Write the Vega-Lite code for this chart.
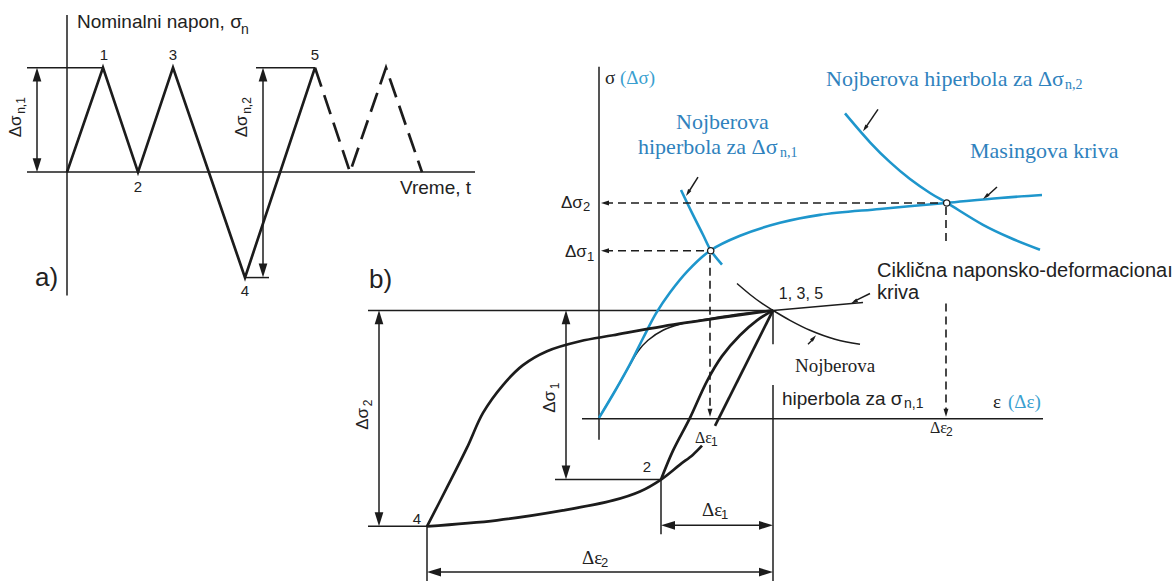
{
  "$schema": "https://vega.github.io/schema/vega-lite/v6.json",
  "width": 1174,
  "height": 584,
  "autosize": {"type": "fit", "contains": "padding"},
  "padding": 0,
  "background": "white",
  "config": {"view": {"stroke": null}},
  "datasets": {
    "thin": [
      {"id": "a_vaxis", "o": 1, "x": 67, "y": 15}, {"id": "a_vaxis", "o": 2, "x": 67, "y": 297},
      {"id": "a_haxis", "o": 1, "x": 27, "y": 173}, {"id": "a_haxis", "o": 2, "x": 475, "y": 173},
      {"id": "a_top1", "o": 1, "x": 27, "y": 68}, {"id": "a_top1", "o": 2, "x": 103, "y": 68},
      {"id": "a_top2", "o": 1, "x": 256, "y": 68}, {"id": "a_top2", "o": 2, "x": 315, "y": 68},
      {"id": "a_bot", "o": 1, "x": 245, "y": 279}, {"id": "a_bot", "o": 2, "x": 269, "y": 279},
      {"id": "a_arr1", "o": 1, "x": 37, "y": 72}, {"id": "a_arr1", "o": 2, "x": 37, "y": 169},
      {"id": "a_arr2", "o": 1, "x": 263, "y": 72}, {"id": "a_arr2", "o": 2, "x": 263, "y": 275},
      {"id": "b_top", "o": 1, "x": 368, "y": 312}, {"id": "b_top", "o": 2, "x": 773, "y": 312},
      {"id": "b_bot", "o": 1, "x": 368, "y": 529}, {"id": "b_bot", "o": 2, "x": 427, "y": 529},
      {"id": "b_ref2", "o": 1, "x": 555, "y": 482}, {"id": "b_ref2", "o": 2, "x": 661, "y": 482},
      {"id": "b_v773a", "o": 1, "x": 773, "y": 312}, {"id": "b_v773a", "o": 2, "x": 773, "y": 346},
      {"id": "b_v773b", "o": 1, "x": 773, "y": 387}, {"id": "b_v773b", "o": 2, "x": 773, "y": 584},
      {"id": "b_v661", "o": 1, "x": 661, "y": 482}, {"id": "b_v661", "o": 2, "x": 661, "y": 537},
      {"id": "b_v427", "o": 1, "x": 427, "y": 529}, {"id": "b_v427", "o": 2, "x": 427, "y": 584},
      {"id": "b_arrS2", "o": 1, "x": 379, "y": 316}, {"id": "b_arrS2", "o": 2, "x": 379, "y": 525},
      {"id": "b_arrS1", "o": 1, "x": 566, "y": 316}, {"id": "b_arrS1", "o": 2, "x": 566, "y": 478},
      {"id": "b_arrE1", "o": 1, "x": 665, "y": 528}, {"id": "b_arrE1", "o": 2, "x": 769, "y": 528},
      {"id": "b_arrE2", "o": 1, "x": 431, "y": 575}, {"id": "b_arrE2", "o": 2, "x": 769, "y": 575},
      {"id": "b_saxis", "o": 1, "x": 599, "y": 67}, {"id": "b_saxis", "o": 2, "x": 599, "y": 442},
      {"id": "b_eaxis", "o": 1, "x": 582, "y": 421}, {"id": "b_eaxis", "o": 2, "x": 1043, "y": 421},
      {"id": "b_cycext", "o": 1, "x": 773, "y": 312}, {"id": "b_cycext", "o": 2, "x": 863, "y": 304},
      {"id": "p1", "o": 1, "x": 698, "y": 178}, {"id": "p1", "o": 2, "x": 688, "y": 194},
      {"id": "p2", "o": 1, "x": 878, "y": 110}, {"id": "p2", "o": 2, "x": 865, "y": 129},
      {"id": "p3", "o": 1, "x": 997, "y": 188}, {"id": "p3", "o": 2, "x": 986, "y": 198},
      {"id": "p4", "o": 1, "x": 870, "y": 295}, {"id": "p4", "o": 2, "x": 854, "y": 303},
      {"id": "p5", "o": 1, "x": 808, "y": 346}, {"id": "p5", "o": 2, "x": 814, "y": 340}
    ],
    "thinCurve": [
      {"id": "cyc", "o": 1, "x": 599, "y": 420}, {"id": "cyc", "o": 2, "x": 615, "y": 393},
      {"id": "cyc", "o": 3, "x": 628, "y": 370}, {"id": "cyc", "o": 4, "x": 638, "y": 353},
      {"id": "cyc", "o": 5, "x": 648, "y": 342}, {"id": "cyc", "o": 6, "x": 663, "y": 332},
      {"id": "cyc", "o": 7, "x": 680, "y": 326}, {"id": "cyc", "o": 8, "x": 700, "y": 322},
      {"id": "cyc", "o": 9, "x": 735, "y": 316}, {"id": "cyc", "o": 10, "x": 773, "y": 312},
      {"id": "hypB", "o": 1, "x": 737, "y": 285}, {"id": "hypB", "o": 2, "x": 750, "y": 296},
      {"id": "hypB", "o": 3, "x": 762, "y": 305}, {"id": "hypB", "o": 4, "x": 773, "y": 312},
      {"id": "hypB", "o": 5, "x": 790, "y": 322}, {"id": "hypB", "o": 6, "x": 810, "y": 332},
      {"id": "hypB", "o": 7, "x": 835, "y": 341}, {"id": "hypB", "o": 8, "x": 860, "y": 346}
    ],
    "thick": [
      {"id": "wave", "o": 1, "x": 67, "y": 173}, {"id": "wave", "o": 2, "x": 103, "y": 68},
      {"id": "wave", "o": 3, "x": 138, "y": 173}, {"id": "wave", "o": 4, "x": 173, "y": 68},
      {"id": "wave", "o": 5, "x": 245, "y": 279}, {"id": "wave", "o": 6, "x": 315, "y": 68},
      {"id": "unload", "o": 1, "x": 715, "y": 428}, {"id": "unload", "o": 2, "x": 773, "y": 312}
    ],
    "thickDash": [
      {"id": "wave2", "o": 1, "x": 315, "y": 68}, {"id": "wave2", "o": 2, "x": 350, "y": 173},
      {"id": "wave2", "o": 3, "x": 386, "y": 68}, {"id": "wave2", "o": 4, "x": 422, "y": 173}
    ],
    "thickCurve": [
      {"id": "up4", "o": 1, "x": 427, "y": 529}, {"id": "up4", "o": 2, "x": 447, "y": 490},
      {"id": "up4", "o": 3, "x": 467, "y": 450}, {"id": "up4", "o": 4, "x": 483, "y": 415},
      {"id": "up4", "o": 5, "x": 503, "y": 387}, {"id": "up4", "o": 6, "x": 523, "y": 367},
      {"id": "up4", "o": 7, "x": 547, "y": 353}, {"id": "up4", "o": 8, "x": 580, "y": 343},
      {"id": "up4", "o": 9, "x": 613, "y": 337}, {"id": "up4", "o": 10, "x": 663, "y": 328},
      {"id": "up4", "o": 11, "x": 730, "y": 318}, {"id": "up4", "o": 12, "x": 773, "y": 312},
      {"id": "low4", "o": 1, "x": 427, "y": 529}, {"id": "low4", "o": 2, "x": 497, "y": 523},
      {"id": "low4", "o": 3, "x": 563, "y": 513}, {"id": "low4", "o": 4, "x": 613, "y": 503},
      {"id": "low4", "o": 5, "x": 640, "y": 494}, {"id": "low4", "o": 6, "x": 661, "y": 482},
      {"id": "low4", "o": 7, "x": 680, "y": 467}, {"id": "low4", "o": 8, "x": 693, "y": 457},
      {"id": "low4", "o": 9, "x": 702, "y": 448},
      {"id": "up2", "o": 1, "x": 661, "y": 482}, {"id": "up2", "o": 2, "x": 673, "y": 453},
      {"id": "up2", "o": 3, "x": 690, "y": 420}, {"id": "up2", "o": 4, "x": 707, "y": 383},
      {"id": "up2", "o": 5, "x": 722, "y": 358}, {"id": "up2", "o": 6, "x": 740, "y": 337},
      {"id": "up2", "o": 7, "x": 757, "y": 322}, {"id": "up2", "o": 8, "x": 773, "y": 312}
    ],
    "blue": [
      {"id": "masing", "o": 1, "x": 599, "y": 420}, {"id": "masing", "o": 2, "x": 615, "y": 393},
      {"id": "masing", "o": 3, "x": 630, "y": 366}, {"id": "masing", "o": 4, "x": 643, "y": 340},
      {"id": "masing", "o": 5, "x": 656, "y": 315}, {"id": "masing", "o": 6, "x": 670, "y": 294},
      {"id": "masing", "o": 7, "x": 688, "y": 272}, {"id": "masing", "o": 8, "x": 710, "y": 252},
      {"id": "masing", "o": 9, "x": 740, "y": 237}, {"id": "masing", "o": 10, "x": 780, "y": 224},
      {"id": "masing", "o": 11, "x": 820, "y": 216}, {"id": "masing", "o": 12, "x": 880, "y": 210},
      {"id": "masing", "o": 13, "x": 946, "y": 204}, {"id": "masing", "o": 14, "x": 1000, "y": 199},
      {"id": "masing", "o": 15, "x": 1042, "y": 196},
      {"id": "hyp1", "o": 1, "x": 681, "y": 191}, {"id": "hyp1", "o": 2, "x": 692, "y": 214},
      {"id": "hyp1", "o": 3, "x": 703, "y": 236}, {"id": "hyp1", "o": 4, "x": 711, "y": 252},
      {"id": "hyp1", "o": 5, "x": 722, "y": 266},
      {"id": "hyp2", "o": 1, "x": 845, "y": 114}, {"id": "hyp2", "o": 2, "x": 870, "y": 143},
      {"id": "hyp2", "o": 3, "x": 890, "y": 163}, {"id": "hyp2", "o": 4, "x": 910, "y": 180},
      {"id": "hyp2", "o": 5, "x": 930, "y": 194}, {"id": "hyp2", "o": 6, "x": 947, "y": 204},
      {"id": "hyp2", "o": 7, "x": 983, "y": 226}, {"id": "hyp2", "o": 8, "x": 1010, "y": 239},
      {"id": "hyp2", "o": 9, "x": 1040, "y": 251}
    ],
    "thinDash": [
      {"id": "d1", "o": 1, "x": 605, "y": 204}, {"id": "d1", "o": 2, "x": 946, "y": 204},
      {"id": "d2", "o": 1, "x": 946, "y": 208}, {"id": "d2", "o": 2, "x": 946, "y": 247},
      {"id": "d3", "o": 1, "x": 946, "y": 305}, {"id": "d3", "o": 2, "x": 946, "y": 412},
      {"id": "d4", "o": 1, "x": 605, "y": 252}, {"id": "d4", "o": 2, "x": 710, "y": 252},
      {"id": "d5", "o": 1, "x": 710, "y": 256}, {"id": "d5", "o": 2, "x": 710, "y": 412}
    ],
    "circles": [
      {"x": 710.7, "y": 252}, {"x": 946.7, "y": 204}
    ],
    "bigHeads": [
      {"x": 37, "y": 75, "a": 0}, {"x": 37, "y": 166, "a": 180},
      {"x": 263, "y": 75, "a": 0}, {"x": 263, "y": 272, "a": 180},
      {"x": 379, "y": 319, "a": 0}, {"x": 379, "y": 522, "a": 180},
      {"x": 566, "y": 319, "a": 0}, {"x": 566, "y": 475, "a": 180},
      {"x": 668, "y": 528, "a": 270}, {"x": 766, "y": 528, "a": 90},
      {"x": 434, "y": 575, "a": 270}, {"x": 766, "y": 575, "a": 90}
    ],
    "dashHeads": [
      {"x": 605, "y": 204, "a": 270}, {"x": 605, "y": 252, "a": 270},
      {"x": 710, "y": 415, "a": 180}, {"x": 946, "y": 415, "a": 180}
    ],
    "pointerHeads": [
      {"x": 687.9, "y": 194, "a": 212.3}, {"x": 865, "y": 129.1, "a": 214.3},
      {"x": 985.7, "y": 197.7, "a": 229.4}, {"x": 854.1, "y": 303.4, "a": 242.2},
      {"x": 813.7, "y": 339.6, "a": 41.6}
    ],
    "sans19": [
      {"x": 77, "y": 22, "t": "Nominalni napon, σ"},
      {"x": 400, "y": 189, "t": "Vreme, t"},
      {"x": 782, "y": 401, "t": "hiperbola za σ"}
    ],
    "sans20": [
      {"x": 877, "y": 272, "t": "Ciklična naponsko-deformacionaı"},
      {"x": 877, "y": 295, "t": "kriva"}
    ],
    "sans15": [
      {"x": 104, "y": 55, "t": "1"}, {"x": 173, "y": 55, "t": "3"}, {"x": 315, "y": 55, "t": "5"},
      {"x": 138, "y": 188, "t": "2"}, {"x": 245, "y": 293, "t": "4"},
      {"x": 647, "y": 469, "t": "2"}, {"x": 417, "y": 522, "t": "4"}
    ],
    "sans16": [
      {"x": 801, "y": 296, "t": "1, 3, 5"}
    ],
    "sans26": [
      {"x": 35, "y": 279, "t": "a)"}, {"x": 369, "y": 281, "t": "b)"}
    ],
    "sansSub": [
      {"x": 241, "y": 30, "t": "n"}, {"x": 904, "y": 406, "t": "n,1"}
    ],
    "rotSans": [
      {"x": 16, "y": 127, "t": "Δσ"}, {"x": 242, "y": 127, "t": "Δσ"},
      {"x": 363, "y": 421, "t": "Δσ"}, {"x": 550, "y": 404, "t": "Δσ"}
    ],
    "rotSansSub": [
      {"x": 21, "y": 106, "t": "n,1"}, {"x": 247, "y": 106, "t": "n,2"},
      {"x": 368, "y": 405, "t": "2"}, {"x": 555, "y": 388, "t": "1"}
    ],
    "sansDelta": [
      {"x": 561, "y": 204, "t": "Δσ"}, {"x": 565, "y": 253, "t": "Δσ"}
    ],
    "digitSub": [
      {"x": 583, "y": 208, "t": "2"}, {"x": 587, "y": 258, "t": "1"},
      {"x": 721, "y": 518, "t": "1"}, {"x": 601, "y": 566, "t": "2"}
    ],
    "smallSub": [
      {"x": 711, "y": 444, "t": "1"}, {"x": 946, "y": 434, "t": "2"}
    ],
    "serifBlack": [
      {"x": 702, "y": 513, "t": "Δε"}, {"x": 582, "y": 561, "t": "Δε"},
      {"x": 795, "y": 368, "t": "Nojberova"},
      {"x": 605, "y": 78, "t": "σ"}, {"x": 993, "y": 404, "t": "ε"}
    ],
    "serifSmall": [
      {"x": 695, "y": 440, "t": "Δε"}, {"x": 930, "y": 430, "t": "Δε"}
    ],
    "blueText": [
      {"x": 826, "y": 79, "t": "Nojberova hiperbola za Δσ"},
      {"x": 970, "y": 152, "t": "Masingova kriva"},
      {"x": 676, "y": 123, "t": "Nojberova"},
      {"x": 638, "y": 148, "t": "hiperbola za Δσ"}
    ],
    "blueSub": [
      {"x": 1065, "y": 85, "t": "n,2"}, {"x": 780, "y": 154, "t": "n,1"}
    ],
    "blueParen": [
      {"x": 620, "y": 78, "t": "(Δσ)"}, {"x": 1008, "y": 404, "t": "(Δε)"}
    ]
  },
  "encoding": {
    "x": {"field": "x", "type": "quantitative", "scale": {"domain": [0, 1174], "nice": false, "zero": false}, "axis": null},
    "y": {"field": "y", "type": "quantitative", "scale": {"domain": [0, 584], "nice": false, "zero": false, "reverse": true}, "axis": null}
  },
  "layer": [
    {
      "data": {"name": "thin"},
      "mark": {"type": "line", "color": "#1c1c1c", "strokeWidth": 1.5},
      "encoding": {"detail": {"field": "id"}, "order": {"field": "o", "type": "quantitative"}}
    },
    {
      "data": {"name": "thinCurve"},
      "mark": {"type": "line", "color": "#1c1c1c", "strokeWidth": 1.5, "interpolate": "catmull-rom"},
      "encoding": {"detail": {"field": "id"}, "order": {"field": "o", "type": "quantitative"}}
    },
    {
      "data": {"name": "blue"},
      "mark": {"type": "line", "color": "#1e96cc", "strokeWidth": 2.6, "interpolate": "catmull-rom"},
      "encoding": {"detail": {"field": "id"}, "order": {"field": "o", "type": "quantitative"}}
    },
    {
      "data": {"name": "thick"},
      "mark": {"type": "line", "color": "#1c1c1c", "strokeWidth": 2.7, "strokeJoin": "miter"},
      "encoding": {"detail": {"field": "id"}, "order": {"field": "o", "type": "quantitative"}}
    },
    {
      "data": {"name": "thickDash"},
      "mark": {"type": "line", "color": "#1c1c1c", "strokeWidth": 2.7, "strokeDash": [20, 9]},
      "encoding": {"detail": {"field": "id"}, "order": {"field": "o", "type": "quantitative"}}
    },
    {
      "data": {"name": "thickCurve"},
      "mark": {"type": "line", "color": "#1c1c1c", "strokeWidth": 2.7, "interpolate": "catmull-rom"},
      "encoding": {"detail": {"field": "id"}, "order": {"field": "o", "type": "quantitative"}}
    },
    {
      "data": {"name": "thinDash"},
      "mark": {"type": "line", "color": "#1c1c1c", "strokeWidth": 1.6, "strokeDash": [8, 5]},
      "encoding": {"detail": {"field": "id"}, "order": {"field": "o", "type": "quantitative"}}
    },
    {
      "data": {"name": "circles"},
      "mark": {"type": "point", "shape": "circle", "size": 40, "filled": true, "fill": "white", "stroke": "#1c1c1c", "strokeWidth": 1.3, "opacity": 1}
    },
    {
      "data": {"name": "bigHeads"},
      "mark": {"type": "point", "shape": "M0,-1L0.62,1L-0.62,1Z", "size": 196, "filled": true, "color": "#1c1c1c", "opacity": 1, "strokeWidth": 0},
      "encoding": {"angle": {"field": "a", "type": "quantitative", "scale": null}}
    },
    {
      "data": {"name": "dashHeads"},
      "mark": {"type": "point", "shape": "M0,-1L0.62,1L-0.62,1Z", "size": 64, "filled": true, "color": "#1c1c1c", "opacity": 1, "strokeWidth": 0},
      "encoding": {"angle": {"field": "a", "type": "quantitative", "scale": null}}
    },
    {
      "data": {"name": "pointerHeads"},
      "mark": {"type": "point", "shape": "M0,-1L0.55,1L-0.55,1Z", "size": 49, "filled": true, "color": "#1c1c1c", "opacity": 1, "strokeWidth": 0},
      "encoding": {"angle": {"field": "a", "type": "quantitative", "scale": null}}
    },
    {
      "data": {"name": "sans19"},
      "mark": {"type": "text", "font": "Liberation Sans", "fontSize": 19, "align": "left", "baseline": "middle", "color": "#222222"},
      "encoding": {"text": {"field": "t"}}
    },
    {
      "data": {"name": "sans20"},
      "mark": {"type": "text", "font": "Liberation Sans", "fontSize": 20, "align": "left", "baseline": "middle", "color": "#222222"},
      "encoding": {"text": {"field": "t"}}
    },
    {
      "data": {"name": "sans15"},
      "mark": {"type": "text", "font": "Liberation Sans", "fontSize": 15, "align": "center", "baseline": "middle", "color": "#222222"},
      "encoding": {"text": {"field": "t"}}
    },
    {
      "data": {"name": "sans16"},
      "mark": {"type": "text", "font": "Liberation Sans", "fontSize": 16, "align": "center", "baseline": "middle", "color": "#222222"},
      "encoding": {"text": {"field": "t"}}
    },
    {
      "data": {"name": "sans26"},
      "mark": {"type": "text", "font": "Liberation Sans", "fontSize": 26, "align": "left", "baseline": "middle", "color": "#222222"},
      "encoding": {"text": {"field": "t"}}
    },
    {
      "data": {"name": "sansSub"},
      "mark": {"type": "text", "font": "Liberation Sans", "fontSize": 14, "align": "left", "baseline": "middle", "color": "#222222"},
      "encoding": {"text": {"field": "t"}}
    },
    {
      "data": {"name": "rotSans"},
      "mark": {"type": "text", "font": "Liberation Sans", "fontSize": 17, "align": "center", "baseline": "middle", "angle": 270, "color": "#222222"},
      "encoding": {"text": {"field": "t"}}
    },
    {
      "data": {"name": "rotSansSub"},
      "mark": {"type": "text", "font": "Liberation Sans", "fontSize": 12, "align": "center", "baseline": "middle", "angle": 270, "color": "#222222"},
      "encoding": {"text": {"field": "t"}}
    },
    {
      "data": {"name": "sansDelta"},
      "mark": {"type": "text", "font": "Liberation Sans", "fontSize": 17, "align": "left", "baseline": "middle", "color": "#222222"},
      "encoding": {"text": {"field": "t"}}
    },
    {
      "data": {"name": "digitSub"},
      "mark": {"type": "text", "font": "Liberation Sans", "fontSize": 13, "align": "left", "baseline": "middle", "color": "#222222"},
      "encoding": {"text": {"field": "t"}}
    },
    {
      "data": {"name": "smallSub"},
      "mark": {"type": "text", "font": "Liberation Sans", "fontSize": 12, "align": "left", "baseline": "middle", "color": "#222222"},
      "encoding": {"text": {"field": "t"}}
    },
    {
      "data": {"name": "serifBlack"},
      "mark": {"type": "text", "font": "Liberation Serif", "fontSize": 19, "align": "left", "baseline": "middle", "color": "#222222"},
      "encoding": {"text": {"field": "t"}}
    },
    {
      "data": {"name": "serifSmall"},
      "mark": {"type": "text", "font": "Liberation Serif", "fontSize": 16, "align": "left", "baseline": "middle", "color": "#222222"},
      "encoding": {"text": {"field": "t"}}
    },
    {
      "data": {"name": "blueText"},
      "mark": {"type": "text", "font": "Liberation Serif", "fontSize": 22, "align": "left", "baseline": "middle", "color": "#2f82bd"},
      "encoding": {"text": {"field": "t"}}
    },
    {
      "data": {"name": "blueSub"},
      "mark": {"type": "text", "font": "Liberation Serif", "fontSize": 14, "align": "left", "baseline": "middle", "color": "#2f82bd"},
      "encoding": {"text": {"field": "t"}}
    },
    {
      "data": {"name": "blueParen"},
      "mark": {"type": "text", "font": "Liberation Serif", "fontSize": 19, "align": "left", "baseline": "middle", "color": "#3a9fd0"},
      "encoding": {"text": {"field": "t"}}
    }
  ]
}
